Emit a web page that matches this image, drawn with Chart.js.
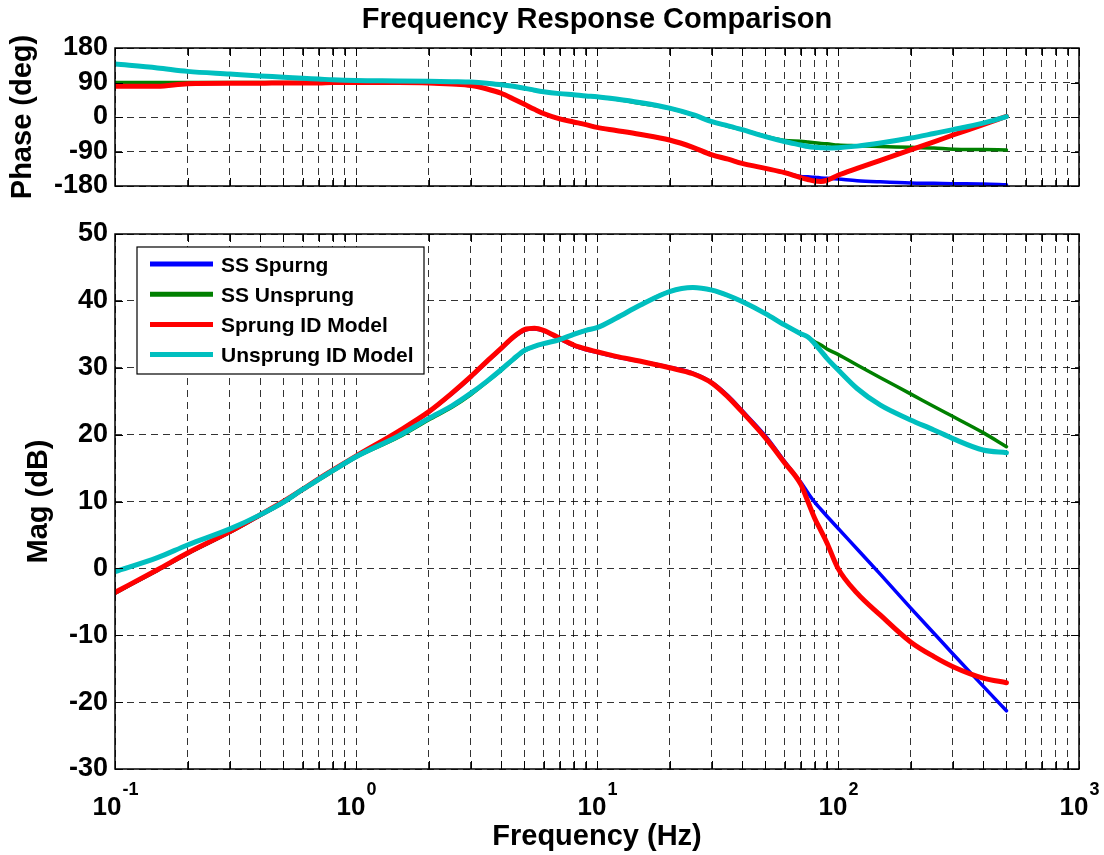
<!DOCTYPE html>
<html>
<head>
<meta charset="utf-8">
<title>Frequency Response Comparison</title>
<script src="https://cdn.jsdelivr.net/npm/chart.js@4.4.1/dist/chart.umd.min.js"></script>
<style>
  html, body { margin: 0; padding: 0; background: #fff; }
  #wrap { position: relative; width: 1104px; height: 855px; overflow: hidden; background: #fff; }
  #phaseChart { position: absolute; left: 0; top: 0; }
  #magChart { position: absolute; left: 0; top: 205px; }
</style>
</head>
<body>
<div id="wrap">
  <canvas id="phaseChart" width="1104" height="210"></canvas>
  <canvas id="magChart" width="1104" height="650"></canvas>
</div>
<script>
// ---- data ----
const freqHz = [0.1, 0.15, 0.2, 0.3, 0.4, 0.5, 0.6, 0.7, 0.8, 1,
  1.5, 2, 2.5, 3, 3.5, 4, 4.5, 5, 5.5, 6,
  7, 8, 9, 10, 12, 15, 20, 25, 30, 35,
  40, 50, 60, 70, 75, 80, 85, 90, 100, 120,
  150, 200, 250, 300, 400, 500];

const ssSprungMag = [-3.7, -0.3, 2.2, 5.4, 7.9, 9.9, 11.8, 13.4, 14.7, 16.8,
  20.4, 23.3, 26.1, 28.6, 30.9, 32.8, 34.5, 35.6, 35.8, 35.5,
  34.3, 33.3, 32.7, 32.3, 31.6, 31.0, 30.1, 29.2, 27.8, 25.8,
  23.6, 19.8, 16.0, 12.9, 11.3, 9.9, 8.8, 7.8, 6.0, 2.9,
  -0.9, -5.9, -9.7, -12.8, -17.6, -21.3];
const ssUnsprungMag = [-3.7, -0.3, 2.2, 5.4, 7.9, 9.8, 11.7, 13.2, 14.5, 16.6,
  19.6, 22.2, 24.1, 26.0, 27.9, 29.6, 31.2, 32.5, 33.2, 33.6,
  34.2, 35.0, 35.6, 36.0, 37.4, 39.3, 41.4, 42.0, 41.6, 40.8,
  39.9, 38.1, 36.4, 35.1, 34.6, 33.9, 33.4, 32.8, 32.0, 30.4,
  28.5, 26.1, 24.2, 22.7, 20.3, 18.2];
const sprungIdMag = [-3.6, -0.2, 2.3, 5.5, 8.0, 10.0, 11.8, 13.4, 14.7, 16.8,
  20.5, 23.4, 26.2, 28.7, 31.0, 32.9, 34.6, 35.7, 35.9, 35.6,
  34.4, 33.4, 32.8, 32.4, 31.7, 31.0, 30.0, 29.1, 27.7, 25.6,
  23.4, 19.5, 15.8, 12.6, 10.0, 7.5, 5.6, 3.8, 0.0, -3.7,
  -7.0, -11.0, -13.2, -14.7, -16.4, -17.1];
const unsprungIdMag = [-0.5, 1.6, 3.5, 5.9, 8.0, 9.9, 11.8, 13.3, 14.6, 16.7,
  19.8, 22.4, 24.3, 26.2, 28.0, 29.7, 31.3, 32.6, 33.2, 33.6,
  34.2, 35.0, 35.6, 36.0, 37.4, 39.3, 41.4, 42.0, 41.6, 40.8,
  39.9, 38.1, 36.4, 35.1, 34.6, 33.6, 32.5, 31.4, 29.7, 26.9,
  24.4, 22.2, 20.7, 19.4, 17.7, 17.3];

const ssSprungPhase = [80, 80, 87, 88, 88, 89, 89, 89, 90, 90,
  90, 89, 86, 82, 73, 62, 47, 33, 20, 9,
  -5, -13, -20, -27, -35, -45, -60, -79, -99, -110,
  -121, -134, -145, -155, -156, -157, -159, -160, -162, -166,
  -169, -172, -173, -174, -175, -177];
const ssUnsprungPhase = [90, 90, 90, 90, 90, 90, 90, 90, 90, 90,
  90, 90, 90, 90, 88, 84, 80, 75, 70, 66,
  61, 58, 55, 53, 46, 36, 23, 6, -12, -24,
  -33, -50, -61, -63, -65, -67, -69, -70, -73, -75,
  -77, -79, -81, -84, -85, -86];
const sprungIdPhase = [80, 80, 87, 88, 88, 89, 89, 89, 90, 90,
  90, 89, 86, 82, 73, 62, 47, 33, 20, 9,
  -5, -13, -20, -27, -35, -45, -60, -79, -99, -110,
  -121, -134, -145, -158, -163, -167, -168, -165, -152, -134,
  -113, -86, -65, -47, -20, 2];
const unsprungIdPhase = [138, 128, 119, 112, 107, 104, 101, 99, 97, 95,
  94, 93, 92, 91, 88, 84, 80, 75, 70, 66,
  61, 58, 55, 53, 47, 38, 23, 6, -12, -23,
  -33, -51, -64, -73, -77, -79, -80, -81, -80, -76,
  -68, -55, -43, -33, -16, 1];

const seriesNames = ["SS Spurng", "SS Unsprung", "Sprung ID Model", "Unsprung ID Model"];
const decadeTicks = [0.1, 1, 10, 100, 1000];
const decadeExps = ["-1", "0", "1", "2", "3"];
const phaseTicks = [-180, -90, 0, 90, 180];
const magTicks = [-30, -20, -10, 0, 10, 20, 30, 40, 50];

// ---- styles ----
const FONT = '"Liberation Sans", Arial, Helvetica, sans-serif';
const colors = ["#0000ff", "#008000", "#ff0000", "#00bfbf"];
const widths = [3.5, 3.5, 5, 5];
const order = [3, 2, 1, 0];
const gridColor = "rgba(0,0,0,0.8)";
const gridDash = [7, 5];

// all log grid positions: 1..9 x each decade
var logTicks = [];
decadeTicks.forEach(function (d, i) {
  if (i < decadeTicks.length - 1) {
    for (var m = 1; m < 10; m++) logTicks.push(+(m * d).toPrecision(3));
  } else {
    logTicks.push(d);
  }
});

function toPoints(arr) {
  return freqHz.map(function (f, i) { return { x: f, y: arr[i] }; });
}

function makeDatasets(lists) {
  return lists.map(function (arr, i) {
    return {
      label: seriesNames[i],
      data: toPoints(arr),
      borderColor: colors[i],
      backgroundColor: colors[i],
      borderWidth: widths[i],
      pointRadius: 0,
      cubicInterpolationMode: "monotone",
      borderJoinStyle: "round",
      borderCapStyle: "round",
      order: order[i]
    };
  });
}

var matlabFrame = {
  id: "matlabFrame",
  afterDraw: function (chart, args, opts) {
    var ctx = chart.ctx, a = chart.chartArea;
    var xs = chart.scales.x, ys = chart.scales.y;
    var tl = 8;
    ctx.save();
    ctx.strokeStyle = "#000";
    ctx.lineWidth = 1;
    ctx.beginPath();
    xs.ticks.forEach(function (t) {
      var px = Math.round(xs.getPixelForValue(t.value)) + 0.5;
      ctx.moveTo(px, a.bottom); ctx.lineTo(px, a.bottom - tl);
      ctx.moveTo(px, a.top); ctx.lineTo(px, a.top + tl);
    });
    ys.ticks.forEach(function (t) {
      var py = Math.round(ys.getPixelForValue(t.value)) + 0.5;
      ctx.moveTo(a.left, py); ctx.lineTo(a.left + tl, py);
      ctx.moveTo(a.right, py); ctx.lineTo(a.right - tl, py);
    });
    ctx.stroke();
    ctx.lineWidth = 1.5;
    ctx.strokeRect(a.left, a.top, a.right - a.left, a.bottom - a.top);

    ctx.fillStyle = "#000";
    if (opts.title) {
      ctx.font = "bold 29px " + FONT;
      ctx.textAlign = "center";
      ctx.textBaseline = "alphabetic";
      ctx.fillText(opts.title, (a.left + a.right) / 2, 28);
    }
    if (opts.xLabels) {
      decadeTicks.forEach(function (v, i) {
        var px = xs.getPixelForValue(v);
        ctx.font = "bold 26px " + FONT;
        var w1 = ctx.measureText("10").width;
        ctx.font = "bold 18px " + FONT;
        var w2 = ctx.measureText(decadeExps[i]).width;
        var x0 = px - (w1 + w2) / 2;
        ctx.textAlign = "left";
        ctx.textBaseline = "alphabetic";
        ctx.font = "bold 26px " + FONT;
        ctx.fillText("10", x0, a.bottom + 46);
        ctx.font = "bold 18px " + FONT;
        ctx.fillText(decadeExps[i], x0 + w1 + 1, a.bottom + 26);
      });
    }
    if (opts.legend) {
      var L = a.left + 22, T = a.top + 13, W = 287, H = 127;
      ctx.fillStyle = "#fff";
      ctx.fillRect(L, T, W, H);
      ctx.strokeStyle = "#000";
      ctx.lineWidth = 1.2;
      ctx.strokeRect(L, T, W, H);
      chart.data.datasets.forEach(function (ds, i) {
        var cy = T + 17 + i * 30.2;
        ctx.strokeStyle = ds.borderColor;
        ctx.lineWidth = 5;
        ctx.beginPath();
        ctx.moveTo(L + 13, cy);
        ctx.lineTo(L + 76, cy);
        ctx.stroke();
        ctx.fillStyle = "#000";
        ctx.font = "bold 21px " + FONT;
        ctx.textAlign = "left";
        ctx.textBaseline = "middle";
        ctx.fillText(ds.label, L + 84, cy + 2);
      });
    }
    ctx.restore();
  }
};

function xScale(height, titleText) {
  return {
    type: "logarithmic",
    min: 0.1,
    max: 1000,
    afterBuildTicks: function (s) {
      s.ticks = logTicks.map(function (v) { return { value: v }; });
    },
    afterFit: function (s) { s.height = height; },
    ticks: { display: false },
    grid: { color: gridColor, lineWidth: 1, drawTicks: false },
    border: { display: false, dash: gridDash },
    title: {
      display: !!titleText,
      text: titleText || "",
      color: "#000",
      font: { family: FONT, size: 29, weight: "bold" },
      padding: { top: 0, bottom: 1 }
    }
  };
}

function yScale(min, max, ticksArr, titleText, titlePad) {
  return {
    type: "linear",
    min: min,
    max: max,
    afterBuildTicks: function (s) {
      s.ticks = ticksArr.map(function (v) { return { value: v }; });
    },
    afterFit: function (s) { s.width = 115; },
    ticks: { color: "#000", padding: 7, autoSkip: false, font: { family: FONT, size: 27, weight: "bold" } },
    grid: { color: gridColor, lineWidth: 1, drawTicks: false },
    border: { display: false, dash: gridDash },
    title: {
      display: true,
      text: titleText,
      color: "#000",
      font: { family: FONT, size: 29, weight: "bold" },
      padding: { top: titlePad, bottom: 0 }
    }
  };
}

function baseOptions(pad, frameOpts, xs, ys) {
  return {
    responsive: false,
    animation: false,
    devicePixelRatio: 1,
    layout: { padding: pad },
    plugins: {
      legend: { display: false },
      tooltip: { enabled: false },
      matlabFrame: frameOpts
    },
    scales: { x: xs, y: ys }
  };
}

new Chart(document.getElementById("phaseChart"), {
  type: "line",
  data: { datasets: makeDatasets([ssSprungPhase, ssUnsprungPhase, sprungIdPhase, unsprungIdPhase]) },
  options: baseOptions(
    { left: 0, right: 25, top: 48, bottom: 0 },
    { title: "Frequency Response Comparison" },
    xScale(24, null),
    yScale(-180, 180, phaseTicks, "Phase (deg)", 6)
  ),
  plugins: [matlabFrame]
});

new Chart(document.getElementById("magChart"), {
  type: "line",
  data: { datasets: makeDatasets([ssSprungMag, ssUnsprungMag, sprungIdMag, unsprungIdMag]) },
  options: baseOptions(
    { left: 0, right: 25, top: 29, bottom: 0 },
    { xLabels: true, legend: true },
    xScale(86, "Frequency (Hz)"),
    yScale(-30, 50, magTicks, "Mag (dB)", 22)
  ),
  plugins: [matlabFrame]
});
</script>
</body>
</html>
